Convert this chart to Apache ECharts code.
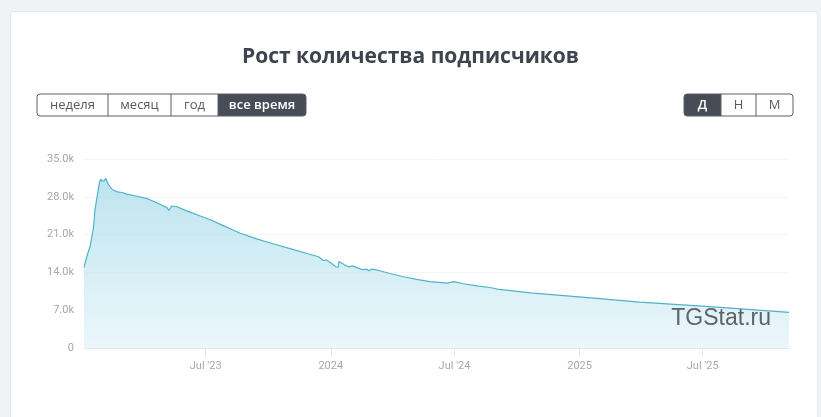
<!DOCTYPE html>
<html>
<head>
<meta charset="utf-8">
<script src="https://cdn.jsdelivr.net/npm/echarts@6/dist/echarts.min.js"></script>
<style>
  html, body { margin: 0; padding: 0; width: 821px; height: 417px; overflow: hidden; background: #f1f2f6; }
  #card { position: absolute; left: 10px; top: 11px; width: 806px; height: 420px; background: #fff; border: 1px solid #e3e6ec; border-radius: 4px; }
  #chart { position: absolute; left: 0; top: 0; width: 821px; height: 417px; }
</style>
</head>
<body>
<div id="card"></div>
<div id="chart"></div>
<script>
// ---- data ----
const titleText = 'Рост количества подписчиков';
const periodButtons = ['неделя', 'месяц', 'год', 'все время'];
const stepButtons = ['Д', 'Н', 'М'];
const watermark = 'TGStat.ru';

const dates = [
  '2023-01-03','2023-01-07','2023-01-12','2023-01-17','2023-01-19','2023-01-23','2023-01-26','2023-01-28',
  '2023-01-29','2023-01-31','2023-02-02','2023-02-04','2023-02-07','2023-02-13','2023-02-21','2023-02-28',
  '2023-03-07','2023-03-22','2023-04-05','2023-04-20','2023-05-05','2023-05-08','2023-05-12','2023-05-19',
  '2023-06-03','2023-06-22','2023-07-07','2023-07-26','2023-08-20','2023-09-14','2023-10-08','2023-11-02',
  '2023-11-27','2023-12-14','2023-12-21','2023-12-26','2024-01-09','2024-01-12','2024-01-13','2024-01-21',
  '2024-01-28','2024-02-02','2024-02-10','2024-02-17','2024-02-23','2024-02-26','2024-03-01','2024-03-06',
  '2024-03-13','2024-03-28','2024-04-17','2024-05-06','2024-05-26','2024-06-20','2024-06-30','2024-07-14',
  '2024-08-03','2024-08-22','2024-09-02','2024-10-21','2024-12-09','2025-01-26','2025-03-30','2025-07-06',
  '2025-09-01','2025-11-05'
];
const subscribers = [
  14900,16900,18800,22400,25500,28600,30800,31300,
  30900,31200,31000,31400,30500,29400,28900,28800,
  28500,28100,27700,26900,26000,25500,26300,26200,
  25400,24500,23800,22700,21300,20200,19300,18400,
  17500,16900,16200,16300,15000,14950,16000,15400,
  15000,15200,14800,14500,14600,14300,14600,14500,
  14300,13800,13200,12700,12300,12000,12300,11900,
  11500,11200,10900,10200,9700,9200,8500,7700,
  7200,6600
];

const yTicks = [0, 7000, 14000, 21000, 28000, 35000];
const yTickLabels = ['0', '7.0k', '14.0k', '21.0k', '28.0k', '35.0k'];
const xTickDates = ['2023-07-01', '2024-01-01', '2024-07-01', '2025-01-01', '2025-07-01'];
const xTickLabels = ["Jul '23", '2024', "Jul '24", '2025', "Jul '25"];

// ---- build chart ----
const ts = d => new Date(d + 'T00:00:00Z').getTime();
const seriesData = dates.map((d, i) => [ts(d), subscribers[i]]);
const xTickValues = xTickDates.map(ts);

function buttonGroup(x, y, widths, labels, activeIndex) {
  const h = 22, r = 3;
  const total = widths.reduce((a, b) => a + b, 0);
  const children = [];
  let cx = x;
  widths.forEach((w, i) => {
    const active = i === activeIndex;
    if (active) {
      const rr = [i === 0 ? r : 0, i === widths.length - 1 ? r : 0, i === widths.length - 1 ? r : 0, i === 0 ? r : 0];
      children.push({ type: 'rect', shape: { x: cx, y: y, width: w, height: h, r: rr }, style: { fill: '#474d57' } });
    }
    if (i > 0) {
      children.push({ type: 'line', shape: { x1: cx, y1: y, x2: cx, y2: y + h }, style: { stroke: '#5a5f68', lineWidth: 1 } });
    }
    children.push({
      type: 'text',
      style: {
        text: labels[i], x: cx + w / 2, y: y + h / 2 + 0.5, align: 'center', verticalAlign: 'middle',
        fill: active ? '#ffffff' : '#555a63', font: (active ? '600 ' : '400 ') + '13px "Open Sans", sans-serif'
      }
    });
    cx += w;
  });
  children.push({ type: 'rect', shape: { x: x, y: y, width: total, height: h, r: r }, style: { fill: 'none', stroke: '#5a5f68', lineWidth: 1 } });
  return { type: 'group', children: children };
}

const chart = echarts.init(document.getElementById('chart'), null, { renderer: 'canvas' });
chart.setOption({
  backgroundColor: 'transparent',
  animation: false,
  title: {
    text: titleText, left: 'center', top: 42,
    textStyle: { fontFamily: '"Open Sans", sans-serif', fontSize: 21, fontWeight: 'bold', color: '#3e444e' }
  },
  grid: { left: 84, right: 32, top: 159, bottom: 69 },
  xAxis: {
    type: 'value',
    min: ts(dates[0]), max: ts(dates[dates.length - 1]),
    axisLine: { show: true, lineStyle: { color: '#e3e6ec', width: 1 } },
    axisTick: { show: true, customValues: xTickValues, length: 8, lineStyle: { color: '#e3e6ec' } },
    axisLabel: {
      customValues: xTickValues, margin: 13, color: '#a5a8ad', fontSize: 11, fontFamily: 'Roboto, sans-serif',
      formatter: v => { const i = xTickValues.indexOf(v); return i >= 0 ? xTickLabels[i] : ''; }
    },
    splitLine: { show: false }
  },
  yAxis: {
    type: 'value', min: 0, max: 35000, interval: 7000,
    axisLine: { show: false }, axisTick: { show: false },
    axisLabel: {
      margin: 10, color: '#a5a8ad', fontSize: 11, fontFamily: 'Roboto, sans-serif', verticalAlign: 'middle', padding: [0, 0, 4, 0],
      formatter: v => { const i = yTicks.indexOf(v); return i >= 0 ? yTickLabels[i] : ''; }
    },
    splitLine: { show: true, lineStyle: { color: '#f3f4f6', width: 1 } }
  },
  series: [{
    type: 'line',
    data: seriesData,
    showSymbol: false,
    smooth: false,
    lineStyle: { color: '#4fb3cb', width: 1.2 },
    areaStyle: {
      color: new echarts.graphic.LinearGradient(0, 0, 0, 1, [
        { offset: 0, color: '#a1d8e8' },
        { offset: 1, color: '#e2f3f8' }
      ])
    }
  }],
  graphic: [
    buttonGroup(37, 94, [71, 63, 47, 88], periodButtons, 3),
    buttonGroup(684, 94, [37, 35, 37], stepButtons, 0),
    {
      type: 'text', z: 100,
      style: { text: watermark, x: 771, y: 319, align: 'right', verticalAlign: 'middle',
        fill: '#5f6368', font: '23px "Liberation Sans", Arial, sans-serif' }
    }
  ]
});
</script>
</body>
</html>
